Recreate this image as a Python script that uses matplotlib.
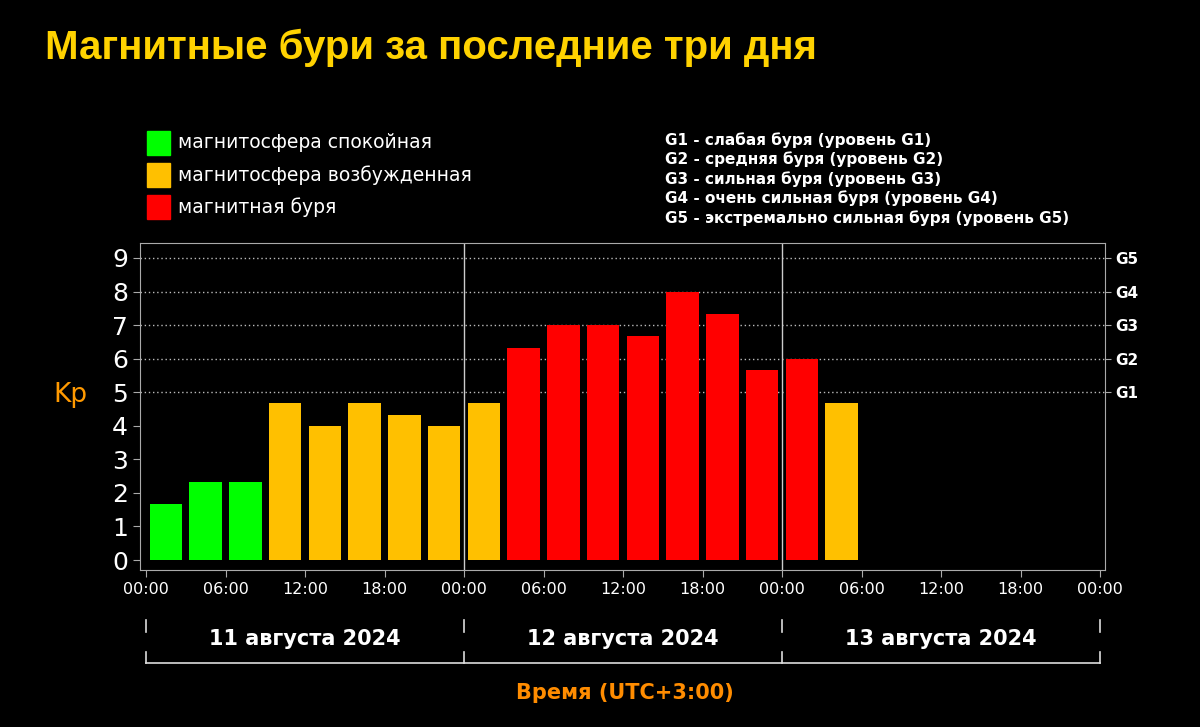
import matplotlib
matplotlib.use("Agg")
import matplotlib.pyplot as plt
from matplotlib.patches import Rectangle

values = [1.67, 2.33, 2.33, 4.67, 4.0, 4.67, 4.33, 4.0,
          4.67, 6.33, 7.0, 7.0, 6.67, 8.0, 7.33, 5.67,
          6.0, 4.67]
tick_labels = ["00:00", "06:00", "12:00", "18:00"] * 3 + ["00:00"]
dates = ["11 августа 2024", "12 августа 2024", "13 августа 2024"]
g_labels = ["G1", "G2", "G3", "G4", "G5"]
legend_items = ["магнитосфера спокойная", "магнитосфера возбужденная", "магнитная буря"]
g_desc = ["G1 - слабая буря (уровень G1)", "G2 - средняя буря (уровень G2)",
          "G3 - сильная буря (уровень G3)", "G4 - очень сильная буря (уровень G4)",
          "G5 - экстремально сильная буря (уровень G5)"]

GREEN, YELLOW, RED = "#00ff00", "#ffc000", "#ff0000"
def col(v):
    return GREEN if v < 4 else (YELLOW if v < 5 else RED)

W, H = 1200, 727
fig = plt.figure(figsize=(12, 7.27), dpi=100, facecolor="black")
def fx(px): return px / W
def fy(py): return 1 - py / H

ax = fig.add_axes([fx(140), fy(570), fx(1105) - fx(140), fy(243) - fy(570)])
ax.set_facecolor("black")
ax.set_xlim(-6 / 13.25, 72 + 5 / 13.25)
ax.set_ylim(-10 / 33.56, 9 + 15 / 33.56)
x = [1.5 + 3 * i for i in range(len(values))]
ax.bar(x, values, width=2.45, color=[col(v) for v in values], zorder=3)
for y in [5, 6, 7, 8, 9]:
    ax.axhline(y, color="#bbbbbb", ls=(0, (1, 2)), lw=1, zorder=1)
for d in [24, 48]:
    ax.axvline(d, color="#cccccc", lw=1, zorder=2)
for s in ax.spines.values():
    s.set_color("#aaaaaa")
ax.set_yticks(range(10))
ax.set_yticklabels([str(i) for i in range(10)], fontsize=18)
ax.set_xticks(range(0, 73, 6))
ax.set_xticklabels(tick_labels, fontsize=11.5)
ax.tick_params(colors="#aaaaaa", labelcolor="white", length=5)
ax2 = ax.twinx()
ax2.set_ylim(ax.get_ylim())
ax2.set_yticks([5, 6, 7, 8, 9])
ax2.set_yticklabels(g_labels, fontsize=11, fontweight="bold")
ax2.tick_params(colors="#aaaaaa", labelcolor="white", length=4)
for s in ax2.spines.values():
    s.set_visible(False)

fig.text(fx(70), fy(395), "Kp", color="#ff9900", fontsize=19, ha="center", va="center")
fig.text(fx(45), fy(48), "Магнитные бури за последние три дня", color="#ffd200",
         fontsize=29, fontweight="bold", family="Liberation Sans", va="center")

for i, (c, t) in enumerate(zip([GREEN, YELLOW, RED], legend_items)):
    yc = 143 + 32 * i
    fig.patches.append(Rectangle((fx(147), fy(yc + 12)), fx(23), fy(0) - fy(24),
                                 transform=fig.transFigure, color=c))
    fig.text(fx(178), fy(yc), t, color="white", fontsize=13.5, va="center")
for i, t in enumerate(g_desc):
    fig.text(fx(665), fy(140 + 19.5 * i), t, color="white", fontsize=11,
             fontweight="bold", va="center")

lk = dict(color="#dddddd", lw=1.2, transform=fig.transFigure)
bounds = [146, 464, 782, 1100]
for b in bounds:
    fig.add_artist(plt.Line2D([fx(b), fx(b)], [fy(620), fy(632)], **lk))
    fig.add_artist(plt.Line2D([fx(b), fx(b)], [fy(652), fy(663)], **lk))
fig.add_artist(plt.Line2D([fx(146), fx(1100)], [fy(663), fy(663)], **lk))
for i, d in enumerate(dates):
    fig.text(fx((bounds[i] + bounds[i + 1]) / 2), fy(639), d, color="white",
             fontsize=15, fontweight="bold", ha="center", va="center")
fig.text(fx(625), fy(693), "Время (UTC+3:00)", color="#ff8c00", fontsize=15,
         fontweight="bold", ha="center", va="center")

fig.savefig("out.png", dpi=100, facecolor="black")
